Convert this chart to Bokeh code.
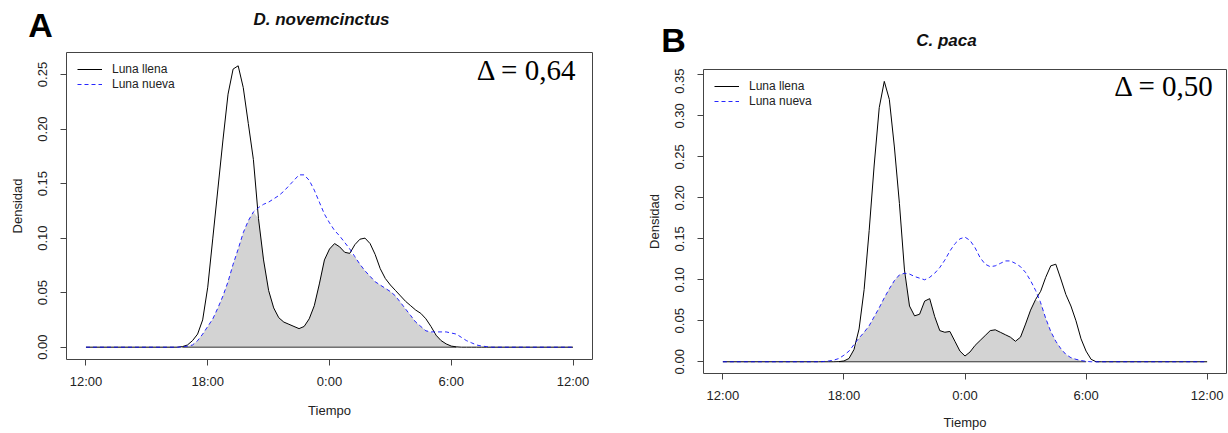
import numpy as np
from bokeh.plotting import figure
from bokeh.layouts import row, column
from bokeh.models import Range1d, FixedTicker, Label, Legend, LegendItem
from bokeh.embed import file_html
from bokeh.resources import INLINE

# ---------------- data ----------------
tick_hours = [0, 6, 12, 18, 24]
tick_labels = ["12:00", "18:00", "0:00", "6:00", "12:00"]

# Panel A: D. novemcinctus (hours since 12:00 noon)
hours_a = [0.0] + [4.5 + 0.25 * i for i in range(63)] + [24.0]
llena_a = [0.0,
           0.0, 0.0005, 0.002, 0.006, 0.012, 0.025,
           0.055, 0.100, 0.145, 0.190,
           0.232, 0.255, 0.258, 0.238,
           0.205, 0.172, 0.118, 0.080,
           0.052, 0.036, 0.027, 0.023,
           0.021, 0.019, 0.017, 0.019,
           0.026, 0.038, 0.058, 0.080,
           0.090, 0.095, 0.092, 0.087,
           0.086, 0.094, 0.099, 0.100,
           0.095, 0.085, 0.072, 0.063,
           0.057, 0.052, 0.047, 0.042,
           0.038, 0.034, 0.031, 0.026,
           0.019, 0.011, 0.006, 0.003,
           0.001, 0.0003, 0.0, 0.0,
           0.0, 0.0, 0.0, 0.0,
           0.0,
           0.0]
nueva_a = [0.0,
           0.0, 0.0003, 0.001, 0.002, 0.006, 0.012,
           0.019, 0.026, 0.036, 0.047,
           0.060, 0.076, 0.090, 0.105,
           0.116, 0.124, 0.128, 0.131,
           0.133, 0.136, 0.139, 0.143,
           0.148, 0.153, 0.158, 0.158,
           0.153, 0.144, 0.133, 0.122,
           0.114, 0.107, 0.102, 0.096,
           0.090, 0.083, 0.076, 0.070,
           0.065, 0.060, 0.057, 0.054,
           0.051, 0.047, 0.041, 0.035,
           0.029, 0.023, 0.019, 0.015,
           0.014, 0.014, 0.014, 0.014,
           0.013, 0.012, 0.009, 0.006,
           0.004, 0.002, 0.001, 0.0005,
           0.0,
           0.0]
yticks_a = [0.0, 0.05, 0.10, 0.15, 0.20, 0.25]
ylabels_a = ["0.00", "0.05", "0.10", "0.15", "0.20", "0.25"]

# Panel B: C. paca
hours_b = [0.0] + [4.75 + 0.25 * i for i in range(57)] + [24.0]
llena_b = [0.0,
           0.0, 0.0, 0.0, 0.0, 0.0002,
           0.001, 0.004, 0.015, 0.040,
           0.088, 0.160, 0.240, 0.310,
           0.342, 0.320, 0.262, 0.193,
           0.112, 0.068, 0.056, 0.058,
           0.074, 0.077, 0.055, 0.038,
           0.036, 0.037, 0.025, 0.013,
           0.007, 0.012, 0.020, 0.026,
           0.032, 0.038, 0.039, 0.036,
           0.033, 0.030, 0.025, 0.030,
           0.046, 0.063, 0.076, 0.086,
           0.103, 0.117, 0.119, 0.101,
           0.082, 0.068, 0.050, 0.028,
           0.013, 0.003, 0.0, 0.0,
           0.0]
nueva_b = [0.0,
           0.0, 0.0003, 0.001, 0.002, 0.004,
           0.008, 0.013, 0.021, 0.029,
           0.036, 0.044, 0.055, 0.066,
           0.078, 0.089, 0.099, 0.106,
           0.108, 0.107, 0.104, 0.102,
           0.100, 0.103, 0.108, 0.115,
           0.124, 0.135, 0.144, 0.150,
           0.152, 0.148, 0.139, 0.127,
           0.119, 0.116, 0.117, 0.120,
           0.123, 0.123, 0.120, 0.116,
           0.109, 0.099, 0.087, 0.072,
           0.053, 0.037, 0.025, 0.016,
           0.009, 0.005, 0.003, 0.0015,
           0.0005, 0.0, 0.0, 0.0,
           0.0]
yticks_b = [0.0, 0.05, 0.10, 0.15, 0.20, 0.25, 0.30, 0.35]
ylabels_b = ["0.00", "0.05", "0.10", "0.15", "0.20", "0.25", "0.30", "0.35"]

series_names = ["Luna llena", "Luna nueva"]
titles = ["D. novemcinctus", "C. paca"]
letters = ["A", "B"]
deltas = ["\u0394 = 0,64", "\u0394 = 0,50"]

FONT = "Liberation Sans"
AX = "#444444"


def header(width, height, letter, title, cfg):
    s = figure(width=width, height=height, x_range=Range1d(0, width),
               y_range=Range1d(height, 0), x_axis_type=None, y_axis_type=None,
               output_backend="svg", toolbar_location=None,
               min_border_left=0, min_border_right=0, min_border_top=0, min_border_bottom=0)
    s.outline_line_color = None
    s.background_fill_color = "white"
    s.border_fill_color = "white"
    s.add_layout(Label(x=cfg["lx"], y=cfg["ly"], text=letter, text_align="center",
                       text_baseline="middle", text_font=FONT, text_font_style="bold",
                       text_font_size="34px", text_color="black"))
    s.add_layout(Label(x=cfg["tx"], y=cfg["ty"], text=title, text_align="center",
                       text_baseline="middle", text_font=FONT,
                       text_font_style="bold italic", text_font_size="17px",
                       text_color="#111111"))
    return s


def panel(hours, llena, nueva, yticks, ylabels, delta, cfg):
    hours = np.array(hours)
    llena = np.array(llena)
    nueva = np.array(nueva)
    overlap = np.minimum(llena, nueva)

    p = figure(width=cfg["w"], height=cfg["h"],
               x_range=Range1d(-0.96, 24.96), y_range=Range1d(*cfg["yr"]),
               output_backend="svg", toolbar_location=None,
               min_border_left=cfg["bl"], min_border_right=cfg["br"],
               min_border_top=1, min_border_bottom=cfg["bb"])
    p.outline_line_color = AX
    p.outline_line_width = 1
    p.xgrid.visible = False
    p.ygrid.visible = False
    p.background_fill_color = "white"
    p.border_fill_color = "white"

    # overlap area
    p.varea(x=hours, y1=np.zeros_like(overlap), y2=overlap, fill_color="#d3d3d3")
    nz = np.nonzero(overlap > 0)[0]
    p.line(x=[hours[nz[0]], hours[nz[-1]]], y=[0, 0], line_color="#333333", line_width=1)

    r1 = p.line(x=hours, y=llena, line_color="black", line_width=1)
    r2 = p.line(x=hours, y=nueva, line_color="blue", line_width=1,
                line_dash="4 3", line_alpha=0.85)

    leg = Legend(items=[LegendItem(label=series_names[0], renderers=[r1]),
                        LegendItem(label=series_names[1], renderers=[r2])],
                 location=cfg["leg"], background_fill_alpha=0, border_line_color=None,
                 padding=5, spacing=1, glyph_width=25, glyph_height=14,
                 label_height=14, label_standoff=10,
                 label_text_font=FONT, label_text_font_size="12px",
                 label_text_color="#222222")
    p.add_layout(leg, "center")

    p.xaxis.ticker = FixedTicker(ticks=tick_hours)
    p.xaxis.major_label_overrides = {t: l for t, l in zip(tick_hours, tick_labels)}
    p.yaxis.ticker = FixedTicker(ticks=yticks)
    p.yaxis.major_label_overrides = {t: l for t, l in zip(yticks, ylabels)}
    p.yaxis.major_label_orientation = "vertical"
    p.xaxis.axis_label = "Tiempo"
    p.yaxis.axis_label = "Densidad"
    for ax in (p.xaxis[0], p.yaxis[0]):
        ax.axis_line_color = None
        ax.major_tick_line_color = AX
        ax.major_tick_out = 6
        ax.major_tick_in = 0
        ax.minor_tick_line_color = None
        ax.major_label_text_font = FONT
        ax.major_label_text_font_size = "13px"
        ax.major_label_text_color = "#222222"
        ax.axis_label_text_font = FONT
        ax.axis_label_text_font_size = "13px"
        ax.axis_label_text_font_style = "normal"
        ax.axis_label_text_color = "#222222"
    p.xaxis.major_label_standoff = 8
    p.xaxis.axis_label_standoff = cfg["xas"]
    p.yaxis.major_label_standoff = 13
    p.yaxis.axis_label_standoff = 11

    p.add_layout(Label(x=cfg["dx"], y=cfg["dy"], text=delta, text_align="right",
                       text_baseline="middle", text_font="Liberation Serif",
                       text_font_size="29px", text_color="black"))
    return p


# page layout (pixels from the top-left corner): A = x 0..643, B = x 643..1227
hdr_a = header(643, 51, letters[0], titles[0], dict(lx=40, ly=24, tx=321, ty=19))
hdr_b = header(584, 68, letters[1], titles[1], dict(lx=30, ly=39, tx=303, ty=40))

cfg_a = dict(w=643, h=381, bl=66, br=51, bb=73, yr=(-0.0113, 0.2702), leg=(11, 268),
             xas=11, dx=24.2, dy=0.2537)
cfg_b = dict(w=584, h=364, bl=60, br=1, bb=59, yr=(-0.0143, 0.3565), leg=(11, 265),
             xas=9, dx=24.36, dy=0.3358)

p1 = panel(hours_a, llena_a, nueva_a, yticks_a, ylabels_a, deltas[0], cfg_a)
p2 = panel(hours_b, llena_b, nueva_b, yticks_b, ylabels_b, deltas[1], cfg_b)

layout = row(column(row(hdr_a), p1), column(row(hdr_b), p2))
open("out.html", "w").write(file_html(layout, INLINE))
